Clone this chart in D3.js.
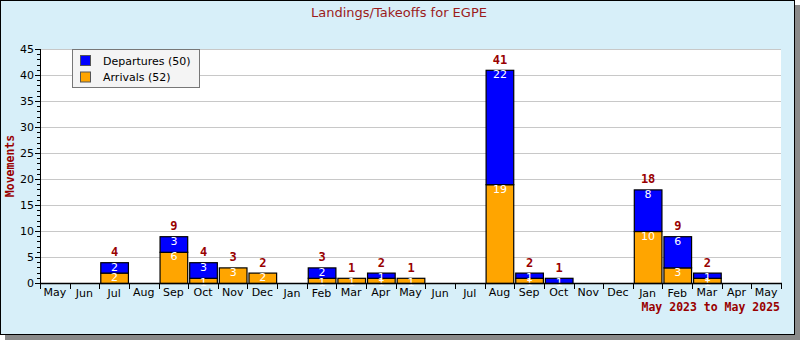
<!DOCTYPE html>
<html>
<head>
<meta charset="utf-8">
<script src="https://cdn.jsdelivr.net/npm/d3@7"></script>
<style>
  html, body { margin: 0; padding: 0; background: #ffffff; }
  svg { display: block; }
</style>
</head>
<body>
<svg id="chart" width="800" height="340"></svg>
<script>
// Monthly movements at EGPE, May 2023 to May 2025
const months = ["May","Jun","Jul","Aug","Sep","Oct","Nov","Dec","Jan","Feb","Mar","Apr",
                "May","Jun","Jul","Aug","Sep","Oct","Nov","Dec","Jan","Feb","Mar","Apr","May"];
const departures = [0,0,2,0,3,3,0,0,0,2,0,1,0,0,0,22,1,1,0,0,8,6,1,0,0];
const arrivals   = [0,0,2,0,6,1,3,2,0,1,1,1,1,0,0,19,1,0,0,0,10,3,1,0,0];
const yTicks = [0,5,10,15,20,25,30,35,40,45];
const titleText = "Landings/Takeoffs for EGPE";
const periodText = "May 2023 to May 2025";
const legendLabels = ["Departures (50)", "Arrivals (52)"];

const svg = d3.select("#chart");
const W = 800, H = 340;
const plot = { left: 40, right: 781, top: 49, bottom: 283 };
const darkRed = "#990000";
const sans = "'DejaVu Sans', sans-serif";
const mono = "'DejaVu Sans Mono', monospace";

// frame with drop shadow
svg.append("rect").attr("x", 5).attr("y", 5).attr("width", 795).attr("height", 335).attr("fill", "#8a8a8a");
svg.append("rect").attr("x", 0.5).attr("y", 0.5).attr("width", 794).attr("height", 334)
  .attr("fill", "#d7eff9").attr("stroke", "#000").attr("stroke-width", 1);

// plot background
svg.append("rect").attr("x", plot.left).attr("y", plot.top)
  .attr("width", plot.right - plot.left).attr("height", plot.bottom - plot.top)
  .attr("fill", "#ffffff");

const idx = d3.range(months.length);
const x = d3.scaleBand().domain(idx).range([plot.left, plot.right]).padding(0);
const y = d3.scaleLinear().domain([0, 45]).range([plot.bottom, plot.top]);

// gridlines
svg.append("g").selectAll("line").data(yTicks.filter(t => t > 0)).join("line")
  .attr("x1", plot.left).attr("x2", plot.right)
  .attr("y1", d => Math.round(y(d)) + 0.5).attr("y2", d => Math.round(y(d)) + 0.5)
  .attr("stroke", "#c8c8c8").attr("stroke-width", 1);

// stacked bars
const stackData = idx.map(i => ({ i, arr: arrivals[i], dep: departures[i] }));
const stack = d3.stack().keys(["arr", "dep"])(stackData);
const colors = { arr: "#ffa500", dep: "#0000ff" };

stack.forEach(layer => {
  const key = layer.key;
  const g = svg.append("g");
  g.selectAll("rect").data(layer.filter(d => d[1] > d[0])).join("rect")
    .attr("x", d => x(d.data.i) + 1.5)
    .attr("width", x.bandwidth() - 2)
    .attr("y", d => y(d[1]) + 0.5)
    .attr("height", d => y(d[0]) - y(d[1]))
    .attr("fill", colors[key])
    .attr("stroke", "#000").attr("stroke-width", 1.2);
});

// segment values
stack.forEach(layer => {
  svg.append("g").selectAll("text").data(layer.filter(d => d[1] > d[0])).join("text")
    .attr("x", d => x(d.data.i) + x.bandwidth() / 2 + 0.5)
    .attr("y", d => y(d[1]) + 8.5)
    .attr("text-anchor", "middle")
    .attr("font-family", sans).attr("font-size", 11)
    .attr("fill", "#ffffff")
    .text(d => d[1] - d[0]);
});

// totals above bars
svg.append("g").selectAll("text").data(stackData.filter(d => d.arr + d.dep > 0)).join("text")
  .attr("x", d => x(d.i) + x.bandwidth() / 2 + 0.5)
  .attr("y", d => y(d.arr + d.dep) - 6)
  .attr("text-anchor", "middle")
  .attr("font-family", mono).attr("font-weight", "bold").attr("font-size", 12)
  .attr("fill", darkRed)
  .text(d => d.arr + d.dep);

// y axis
const yAxis = svg.append("g");
yAxis.append("line").attr("x1", plot.left + 0.5).attr("x2", plot.left + 0.5)
  .attr("y1", plot.top).attr("y2", plot.bottom + 1).attr("stroke", "#000");
yAxis.selectAll("line.minor").data(d3.range(0, 46)).join("line").attr("class", "minor")
  .attr("x1", d => d % 5 === 0 ? plot.left - 5 : plot.left - 3)
  .attr("x2", plot.left + 1)
  .attr("y1", d => Math.round(y(d)) + 0.5).attr("y2", d => Math.round(y(d)) + 0.5)
  .attr("stroke", "#000");
yAxis.selectAll("text").data(yTicks).join("text")
  .attr("x", plot.left - 6).attr("y", d => y(d) + 4)
  .attr("text-anchor", "end")
  .attr("font-family", sans).attr("font-size", 11).attr("fill", "#000")
  .text(d => d);

// x axis
const xAxis = svg.append("g");
xAxis.append("line").attr("x1", plot.left).attr("x2", plot.right + 1)
  .attr("y1", plot.bottom + 0.5).attr("y2", plot.bottom + 0.5).attr("stroke", "#000").attr("stroke-width", 1.5);
xAxis.selectAll("line.tick").data(idx.concat([months.length])).join("line").attr("class", "tick")
  .attr("x1", d => Math.round(d < months.length ? x(d) : plot.right) + 0.5)
  .attr("x2", d => Math.round(d < months.length ? x(d) : plot.right) + 0.5)
  .attr("y1", plot.bottom).attr("y2", plot.bottom + 6)
  .attr("stroke", "#000");
xAxis.selectAll("text").data(idx).join("text")
  .attr("x", d => x(d) + x.bandwidth() / 2)
  .attr("y", d => (months[d] === "Jan" || months[d] === "Feb" || months[d] === "Jul" || months[d] === "Jun") ? 297 : 296)
  .attr("text-anchor", "middle")
  .attr("font-family", sans).attr("font-size", 11).attr("fill", "#000")
  .text(d => months[d]);

// titles
svg.append("text").attr("x", 399).attr("y", 17).attr("text-anchor", "middle")
  .attr("font-family", sans).attr("font-size", 13).attr("fill", "#9b1c1c")
  .text(titleText);

svg.append("text").attr("transform", "translate(14,166) rotate(-90)")
  .attr("text-anchor", "middle")
  .attr("font-family", mono).attr("font-weight", "bold").attr("font-size", 11.5)
  .attr("fill", darkRed).text("Movements");

svg.append("text").attr("x", 780).attr("y", 311).attr("text-anchor", "end")
  .attr("font-family", mono).attr("font-weight", "bold").attr("font-size", 11.5)
  .attr("fill", darkRed).text(periodText);

// legend
const lg = svg.append("g");
lg.append("rect").attr("x", 72.5).attr("y", 49.5).attr("width", 127).attr("height", 38)
  .attr("fill", "#f4f4f4").attr("stroke", "#777").attr("stroke-width", 1);
const legendColors = [colors.dep, colors.arr];
legendLabels.forEach((t, k) => {
  lg.append("rect").attr("x", 80.5).attr("y", 55.5 + k * 16.5).attr("width", 10).attr("height", 10)
    .attr("fill", legendColors[k]).attr("stroke", "#555");
  lg.append("text").attr("x", 103).attr("y", 64.5 + k * 16.5)
    .attr("font-family", sans).attr("font-size", 11).attr("fill", "#000").text(t);
});
</script>
</body>
</html>
